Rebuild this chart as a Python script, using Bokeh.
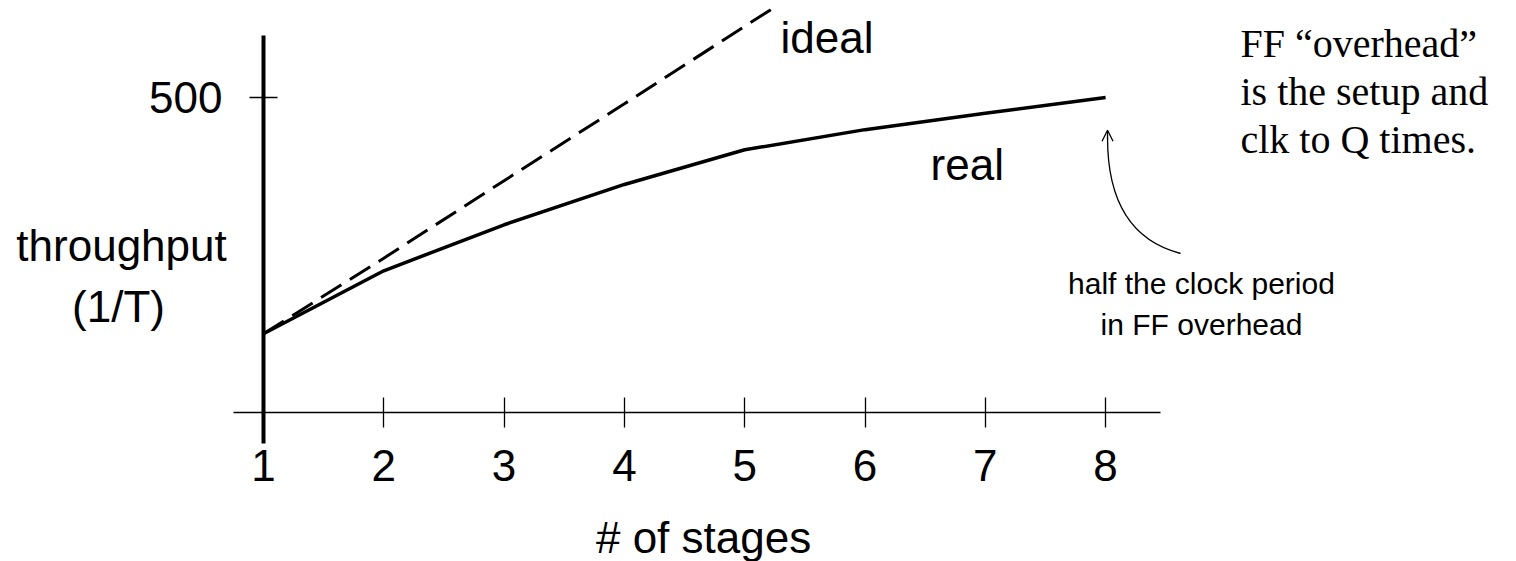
from bokeh.plotting import figure
from bokeh.models import LinearAxis, FixedTicker, Range1d, Arrow, OpenHead
from bokeh.embed import file_html
from bokeh.resources import INLINE
from bokeh.core.properties import value

# ---- data ----
stages = [1, 2, 3, 4, 5, 6, 7, 8]
real_throughput = [125, 225, 298, 362, 417, 449, 475, 500]
ideal_stages = [1, 2, 3, 4, 5, 6]
ideal_throughput = [125, 245, 368, 490, 613, 735]
y_ticks = [500]

SANS = "Liberation Sans"
SERIF = "Liberation Serif"

p = figure(width=1516, height=561, output_backend="svg", toolbar_location=None,
           x_range=Range1d(-1.1862, 11.4156), y_range=Range1d(-236.5, 641.3),
           x_axis_location=None, y_axis_location=None,
           min_border_left=0, min_border_right=0, min_border_bottom=0,
           min_border_top=8,
           background_fill_color="white", border_fill_color="white")
p.grid.visible = False
p.outline_line_color = None

# x axis (through y = 0)
xaxis = LinearAxis(fixed_location=0, bounds=(0.75, 8.456),
                   ticker=FixedTicker(ticks=stages))
xaxis.axis_line_width = 1.5
xaxis.axis_line_color = "black"
xaxis.major_tick_in = 15
xaxis.major_tick_out = 15
xaxis.major_tick_line_width = 1.3
xaxis.major_tick_line_color = "black"
xaxis.minor_tick_line_color = None
xaxis.major_label_text_font = SANS
xaxis.major_label_text_font_size = "44px"
xaxis.major_label_text_color = "black"
xaxis.major_label_standoff = 22
p.add_layout(xaxis, "below")

# y axis (through stage 1)
yaxis = LinearAxis(fixed_location=stages[0], bounds=(-49.2, 598.4),
                   ticker=FixedTicker(ticks=y_ticks))
yaxis.axis_line_width = 4
yaxis.axis_line_color = "black"
yaxis.major_tick_in = 14
yaxis.major_tick_out = 14
yaxis.major_tick_line_width = 1.3
yaxis.major_tick_line_color = "black"
yaxis.minor_tick_line_color = None
yaxis.major_label_text_font = SANS
yaxis.major_label_text_font_size = "44px"
yaxis.major_label_text_color = "black"
yaxis.major_label_standoff = 27
p.add_layout(yaxis, "left")

# series
p.line(ideal_stages, ideal_throughput, line_color="black", line_width=3,
       line_dash="24 10")
p.line(stages, real_throughput, line_color="black", line_width=3.5)

# labels
def txt(x, y, s, font=SANS, size=44, align="left"):
    p.text(x=[x], y=[y], text=[s], text_font=value(font),
           text_font_size=value(f"{size}px"), text_align=align,
           text_baseline="alphabetic", text_color="black",
           y_offset=-round(0.3 * size))

txt(5.298, 574.6, "ideal")
txt(6.545, 373.0, "real")
txt(-0.18, 244.4, "throughput", align="center")
txt(-0.205, 147.6, "(1/T)", align="center")
txt(4.658, -219.0, "# of stages", align="center")

txt(9.121, 566.7, "FF \u201coverhead\u201d", font=SERIF, size=40)
txt(9.121, 490.5, "is the setup and", font=SERIF, size=40)
txt(9.121, 414.3, "clk to Q times.", font=SERIF, size=40)

txt(8.797, 190.5, "half the clock period", size=30, align="center")
txt(8.797, 125.4, "in FF overhead", size=30, align="center")

# curved arrow pointing to the last real point
tip_x = stages[-1] + 0.016
tip_y = real_throughput[-1] - 52
p.bezier(x0=[8.623], y0=[252.4], x1=[tip_x], y1=[tip_y - 12],
         cx0=[8.207], cy0=[273.0], cx1=[tip_x], cy1=[336.5],
         line_color="black", line_width=1.3)
p.add_layout(Arrow(end=OpenHead(size=11, line_width=1.3, line_color="black"),
                   x_start=tip_x, y_start=tip_y - 14, x_end=tip_x, y_end=tip_y,
                   line_width=1.3, line_color="black"))

open("out.html", "w").write(file_html(p, INLINE, title="throughput vs stages"))
